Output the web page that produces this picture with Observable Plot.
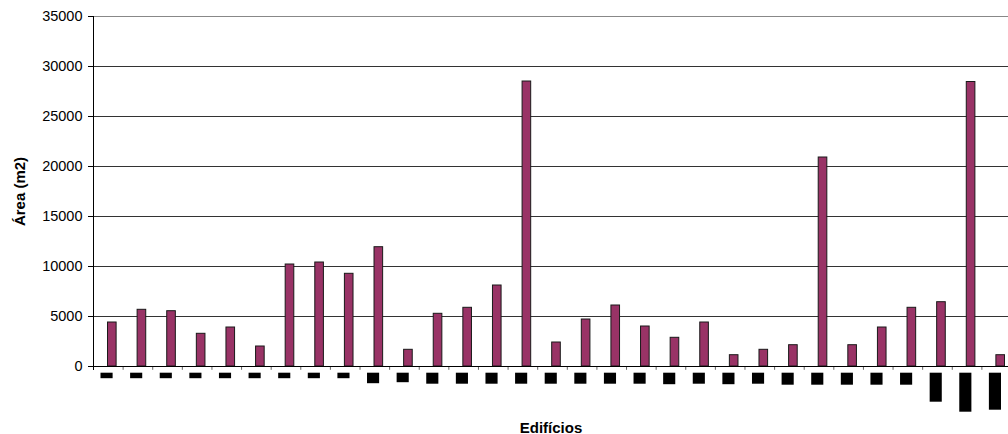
<!DOCTYPE html>
<html>
<head>
<meta charset="utf-8">
<script src="https://cdn.jsdelivr.net/npm/d3@7"></script>
<script src="https://cdn.jsdelivr.net/npm/@observablehq/plot@0.6"></script>
<style>
  html, body { margin: 0; padding: 0; background: #fff; overflow: hidden; }
  #chart { width: 1008px; height: 434px; overflow: hidden; }
  svg { font-family: "Liberation Sans", Arial, sans-serif; }
</style>
</head>
<body>
<div id="chart"></div>
<script>
// Building ids (the original category labels are blacked out)
const buildings = Array.from({length: 31}, (_, i) => `E${i + 1}`);
// Área (m2) per building
const areas = [4400, 5670, 5530, 3270, 3900, 2000, 10200, 10400, 9270, 11930,
               1670, 5270, 5870, 8100, 28500, 2400, 4700, 6100, 4000, 2870,
               4400, 1130, 1670, 2130, 20900, 2130, 3900, 5870, 6430, 28450, 1130];
// Relative length of each blacked-out category label
const labelLength = [5.5, 5.5, 5.5, 5.5, 5.5, 5.5, 5.5, 5.5, 5.5, 10.5,
                     9.5, 11, 11, 11, 11, 11, 11, 11, 11, 11.5,
                     11, 11.5, 11, 12, 12, 12, 12, 12, 29, 39, 37];
const yTicks = [0, 5000, 10000, 15000, 20000, 25000, 30000, 35000];

const data = buildings.map((b, i) => ({b, area: areas[i], label: labelLength[i]}));

const chartW = 1008, chartH = 434;
const mLeft = 93, mTop = 16, mBottom = 68;
const bandW = (1011 - mLeft) / buildings.length;

const chart = Plot.plot({
  width: chartW,
  height: chartH,
  marginLeft: mLeft,
  marginRight: 0,
  marginTop: mTop,
  marginBottom: mBottom,
  style: {fontFamily: '"Liberation Sans", Arial, sans-serif', background: "#fff", overflow: "hidden"},
  x: {type: "band", domain: buildings, range: [mLeft, 1011], padding: 0, round: false, axis: null},
  y: {domain: [0, 35000], axis: null},
  marks: [
    // gridlines
    Plot.ruleY(yTicks.filter(d => d > 0 && d < 35000), {y: d => d, stroke: "#333", strokeWidth: 1}),
    Plot.ruleY([35000], {stroke: "#888", strokeWidth: 1}),
    // y axis
    Plot.axisY({ticks: yTicks, tickSize: 5, tickPadding: 6, tickFormat: d => String(d),
                fontSize: 14.5, stroke: "#000", fill: "#000", label: null}),
    Plot.ruleX([buildings[0]], {x: d => d, dx: -bandW / 2, y1: 35000, y2: -400, stroke: "#000"}),
    // category tick marks
    Plot.ruleX(buildings.slice(1), {x: d => d, dx: -bandW / 2, y1: 0, y2: -380, stroke: "#666"}),
    // bars
    Plot.barY(data, {x: "b", y: "area", fill: "#993366", stroke: "#1a1a1a", strokeWidth: 1,
                     insetLeft: 14.5, insetRight: 6.5}),
    // x baseline
    Plot.ruleY([0], {stroke: "#000", strokeWidth: 1}),
    // blacked-out category labels
    Plot.barY(data, {x: "b", y1: -670, y2: d => -670 - d.label * 100, fill: "#000",
                     insetLeft: 7.5, insetRight: 10}),
    // axis titles
    Plot.text(["Edifícios"], {frameAnchor: "bottom", dy: 66, textAnchor: "middle", fontSize: 15, fontWeight: "bold", fill: "#000"}),
    Plot.text(["Área (m2)"], {frameAnchor: "left", dx: -73, textAnchor: "middle", lineAnchor: "middle", rotate: -90, fontSize: 15, fontWeight: "bold", fill: "#000"})
  ]
});
document.getElementById("chart").appendChild(chart);
</script>
</body>
</html>
